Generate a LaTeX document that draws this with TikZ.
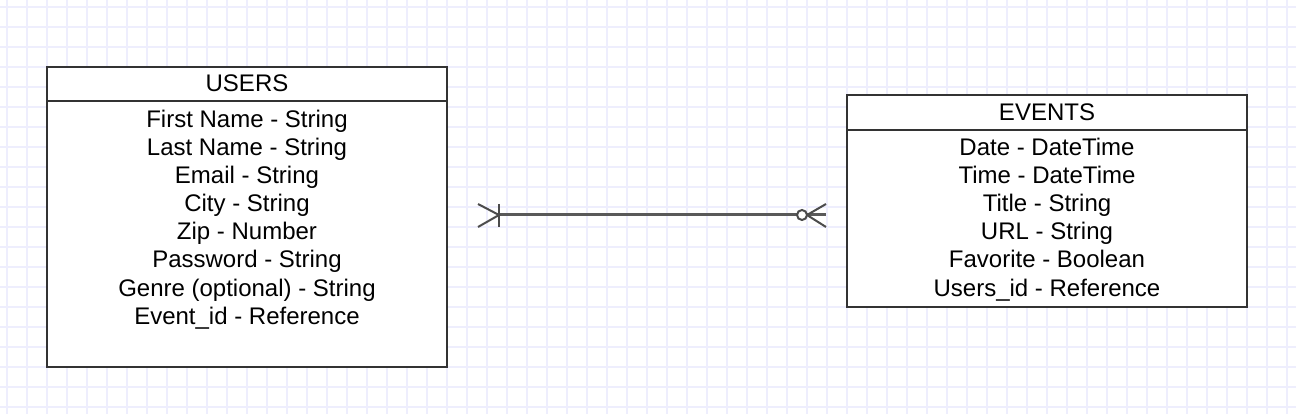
\documentclass[tikz,border=0pt]{standalone}
\usepackage{fontspec}
\setmainfont{Liberation Sans}
\begin{document}
\begin{tikzpicture}[x=1pt,y=-1pt,
  entity/.style={draw=black!80, line width=2pt, fill=white, rectangle, inner sep=0pt},
  rowtext/.style={anchor=base, inner sep=0pt, font=\fontsize{24}{28}\selectfont, text=black},
  rel/.style={draw=black!65, line width=3pt},
  crow/.style={draw=black!70, line width=2pt},
  gridline/.style={draw={rgb,255:red,238;green,238;blue,253}, line width=1.2pt}]
\useasboundingbox (0,0) rectangle (1296,414);
\fill[white] (0,0) rectangle (1296,414);
% grid
\foreach \x in {7,27,...,1296} \draw[gridline] (\x,0) -- (\x,414);
\foreach \y in {7,27,...,414} \draw[gridline] (0,\y) -- (1296,\y);
% USERS
\node[entity, minimum width=400pt, minimum height=300pt] (users) at (247,217) {};
\draw[entity] ([yshift=-35pt]users.north west) -- ([yshift=-35pt]users.north east);
\node[rowtext] (uh) at (247,92) {USERS};
\foreach \t [count=\i] in {First Name - String, Last Name - String, Email - String, City - String, Zip - Number, Password - String, Genre (optional) - String, Event\_id - Reference}
  \node[rowtext] (u\i) at (247,100+28*\i) {\t};
% EVENTS
\node[entity, minimum width=400pt, minimum height=212pt] (events) at (1047,201) {};
\draw[entity] ([yshift=-36pt]events.north west) -- ([yshift=-36pt]events.north east);
\node[rowtext] (eh) at (1047,121) {EVENTS};
\foreach \t [count=\i] in {Date - DateTime, Time - DateTime, Title - String, URL - String, Favorite - Boolean, Users\_id - Reference}
  \node[rowtext] (e\i) at (1047,128+28*\i) {\t};
% relationship
\coordinate (cl) at (499,215);
\coordinate (cr) at (826,215);
\coordinate (co) at (802,215);
\draw[rel] (cl) -- (cr);
\draw[crow] (478,204) -- (cl) -- (478,227);
\draw[crow] (499,204) -- (499,227);
\draw[crow] (826,204) -- (807,215) -- (826,227);
\draw[crow, fill=white] (co) circle (5pt);
\end{tikzpicture}
\end{document}
